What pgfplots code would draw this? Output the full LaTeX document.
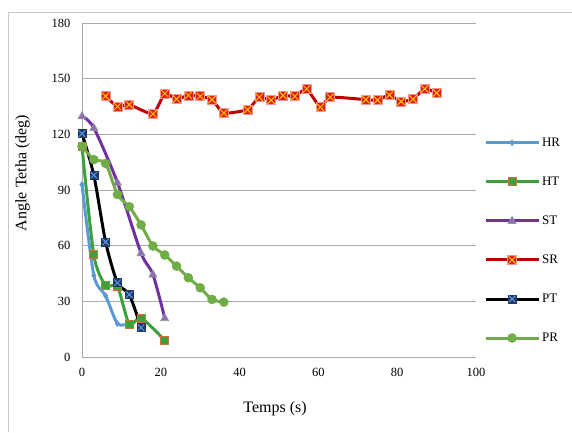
\documentclass[border=0pt]{standalone}
\usepackage{pgfplots}
\pgfplotsset{compat=1.18}
\usepackage{fontspec}
\setmainfont{Liberation Serif}
\definecolor{hrc}{RGB}{91,155,213}
\definecolor{htc}{RGB}{60,160,60}
\definecolor{htb}{RGB}{196,120,50}
\definecolor{stc}{RGB}{112,48,160}
\definecolor{stf}{RGB}{140,110,180}
\definecolor{stb}{RGB}{150,150,150}
\definecolor{src}{RGB}{192,0,0}
\definecolor{srf}{RGB}{225,30,20}
\definecolor{srx}{RGB}{255,192,0}
\definecolor{srb}{RGB}{240,150,150}
\definecolor{ptf}{RGB}{31,56,100}
\definecolor{ptx}{RGB}{90,150,230}
\definecolor{prc}{RGB}{112,173,71}
\definecolor{gridc}{RGB}{170,170,170}
\definecolor{framec}{RGB}{200,200,200}
\pgfdeclareplotmark{srmark}{%
  \pgfpathrectangle{\pgfpoint{-\pgfplotmarksize}{-\pgfplotmarksize}}{\pgfpoint{2\pgfplotmarksize}{2\pgfplotmarksize}}%
  \pgfsetfillcolor{srf}\pgfsetstrokecolor{srb}\pgfsetlinewidth{0.6pt}\pgfusepath{fill,stroke}%
  \pgfpathmoveto{\pgfpoint{-0.8\pgfplotmarksize}{-0.8\pgfplotmarksize}}\pgfpathlineto{\pgfpoint{0.8\pgfplotmarksize}{0.8\pgfplotmarksize}}%
  \pgfpathmoveto{\pgfpoint{-0.8\pgfplotmarksize}{0.8\pgfplotmarksize}}\pgfpathlineto{\pgfpoint{0.8\pgfplotmarksize}{-0.8\pgfplotmarksize}}%
  \pgfsetstrokecolor{srx}\pgfsetlinewidth{1pt}\pgfusepath{stroke}}
\pgfdeclareplotmark{ptmark}{%
  \pgfpathrectangle{\pgfpoint{-\pgfplotmarksize}{-\pgfplotmarksize}}{\pgfpoint{2\pgfplotmarksize}{2\pgfplotmarksize}}%
  \pgfsetfillcolor{ptf}\pgfsetstrokecolor{ptf}\pgfsetlinewidth{0.6pt}\pgfusepath{fill,stroke}%
  \pgfpathmoveto{\pgfpoint{-0.8\pgfplotmarksize}{-0.8\pgfplotmarksize}}\pgfpathlineto{\pgfpoint{0.8\pgfplotmarksize}{0.8\pgfplotmarksize}}%
  \pgfpathmoveto{\pgfpoint{-0.8\pgfplotmarksize}{0.8\pgfplotmarksize}}\pgfpathlineto{\pgfpoint{0.8\pgfplotmarksize}{-0.8\pgfplotmarksize}}%
  \pgfsetstrokecolor{ptx}\pgfsetlinewidth{1pt}\pgfusepath{stroke}}
\pgfdeclareplotmark{htmark}{%
  \pgfpathrectangle{\pgfpoint{-\pgfplotmarksize}{-\pgfplotmarksize}}{\pgfpoint{2\pgfplotmarksize}{2\pgfplotmarksize}}%
  \pgfsetfillcolor{htc}\pgfsetstrokecolor{htb}\pgfsetlinewidth{1pt}\pgfusepath{fill,stroke}}
\pgfdeclareplotmark{hrmark}{%
  \pgfpathmoveto{\pgfpoint{0pt}{\pgfplotmarksize}}\pgfpathlineto{\pgfpoint{0.75\pgfplotmarksize}{0pt}}%
  \pgfpathlineto{\pgfpoint{0pt}{-\pgfplotmarksize}}\pgfpathlineto{\pgfpoint{-0.75\pgfplotmarksize}{0pt}}\pgfpathclose
  \pgfsetfillcolor{hrc}\pgfsetstrokecolor{hrc}\pgfsetlinewidth{0.5pt}\pgfusepath{fill,stroke}}
\pgfdeclareplotmark{stmark}{%
  \pgfpathmoveto{\pgfpoint{0pt}{\pgfplotmarksize}}\pgfpathlineto{\pgfpoint{0.9\pgfplotmarksize}{-0.6\pgfplotmarksize}}%
  \pgfpathlineto{\pgfpoint{-0.9\pgfplotmarksize}{-0.6\pgfplotmarksize}}\pgfpathclose
  \pgfsetfillcolor{stf}\pgfsetstrokecolor{stb}\pgfsetlinewidth{0.6pt}\pgfusepath{fill,stroke}}
\pgfdeclareplotmark{prmark}{%
  \pgfpathcircle{\pgfpointorigin}{\pgfplotmarksize}%
  \pgfsetfillcolor{prc}\pgfsetstrokecolor{prc}\pgfsetlinewidth{0.5pt}\pgfusepath{fill,stroke}}
\begin{document}
\begin{tikzpicture}[x=1pt,y=1pt]
\useasboundingbox (0,0) rectangle (572,432);
\draw[framec,line width=0.8pt] (8,0) -- (8,420) -- (572,420);
\begin{axis}[
  at={(82pt,75pt)}, anchor=south west,
  scale only axis, width=394pt, height=334pt,
  xmin=0, xmax=100, ymin=0, ymax=180,
  xtick={0,20,...,100}, ytick={0,30,...,180},
  major tick length=0pt,
  axis x line*=bottom, axis y line*=left,
  axis line style={gridc,line width=1pt,-},
  ymajorgrids, major grid style={gridc,line width=0.9pt},
  tick label style={font=\fontsize{12.5}{14}\selectfont},
  /pgf/number format/assume math mode=true,
  xticklabel style={yshift=-8pt},
  yticklabel style={xshift=-8pt},
  xlabel={Temps (s)}, ylabel={Angle Tetha (deg)},
  label style={font=\fontsize{16}{18}\selectfont},
  xlabel style={at={(axis description cs:0.49,-0.156)},anchor=center},
  ylabel style={at={(axis description cs:-0.151,0.551)},anchor=center,rotate=0},
  legend style={at={(rel axis cs:1.02,0.663)},anchor=north west,draw=none,fill=none,
    font=\fontsize{13}{15}\selectfont,row sep=25pt,inner sep=0pt,
    cells={anchor=west}},
  legend image code/.code={\draw[line width=3pt,mark repeat=2,mark phase=2] plot coordinates {(0pt,0pt) (26.5pt,0pt) (53pt,0pt)};},
  clip=false,
]
\addplot[hrc, line width=3pt, smooth, tension=0.45, mark=hrmark, mark size=3pt]
  coordinates {(0,93) (3,44) (6,33) (9,18) (12,18)};
\addlegendentry{HR}
\addplot[htc, line width=3pt, smooth, tension=0.45, mark=htmark, mark size=4pt]
  coordinates {(0,113.5) (3,55) (6,38.6) (9,37.9) (12,17.6) (15,21) (21,9)};
\addlegendentry{HT}
\addplot[stc, line width=3pt, smooth, tension=0.45, mark=stmark, mark size=4.5pt]
  coordinates {(0,129.8) (3,123.5) (9,94) (15,56) (18,44.5) (21,21)};
\addlegendentry{ST}
\addplot[src, line width=3pt, smooth, tension=0.3, mark=srmark, mark size=4.5pt]
  coordinates {(6,140.5) (9,135) (12,136) (18,131) (21,142) (24,139) (27,141) (30,140.5) (33,138.7) (36,131.5) (42,133.3) (45,140) (48,138.4) (51,141) (54,140.5) (57,144.5) (60.5,134.6) (63,140) (72,138.7) (75,138.4) (78,141.2) (81,137.7) (84,139) (87,144.5) (90,142.3)};
\addlegendentry{SR}
\addplot[black, line width=3pt, smooth, tension=0.45, mark=ptmark, mark size=4pt]
  coordinates {(0,120.4) (3,98) (6,62) (9,40) (12,33.6) (15,15.8)};
\addlegendentry{PT}
\addplot[prc, line width=3pt, smooth, tension=0.45, mark=prmark, mark size=4.5pt]
  coordinates {(0,113.6) (3,106.4) (6,104.3) (9,87.6) (12,81) (15,71.2) (18,59.8) (21,55) (24,49) (27,42.7) (30,37.3) (33,31) (36,29.6)};
\addlegendentry{PR}
\end{axis}
\end{tikzpicture}
\end{document}
